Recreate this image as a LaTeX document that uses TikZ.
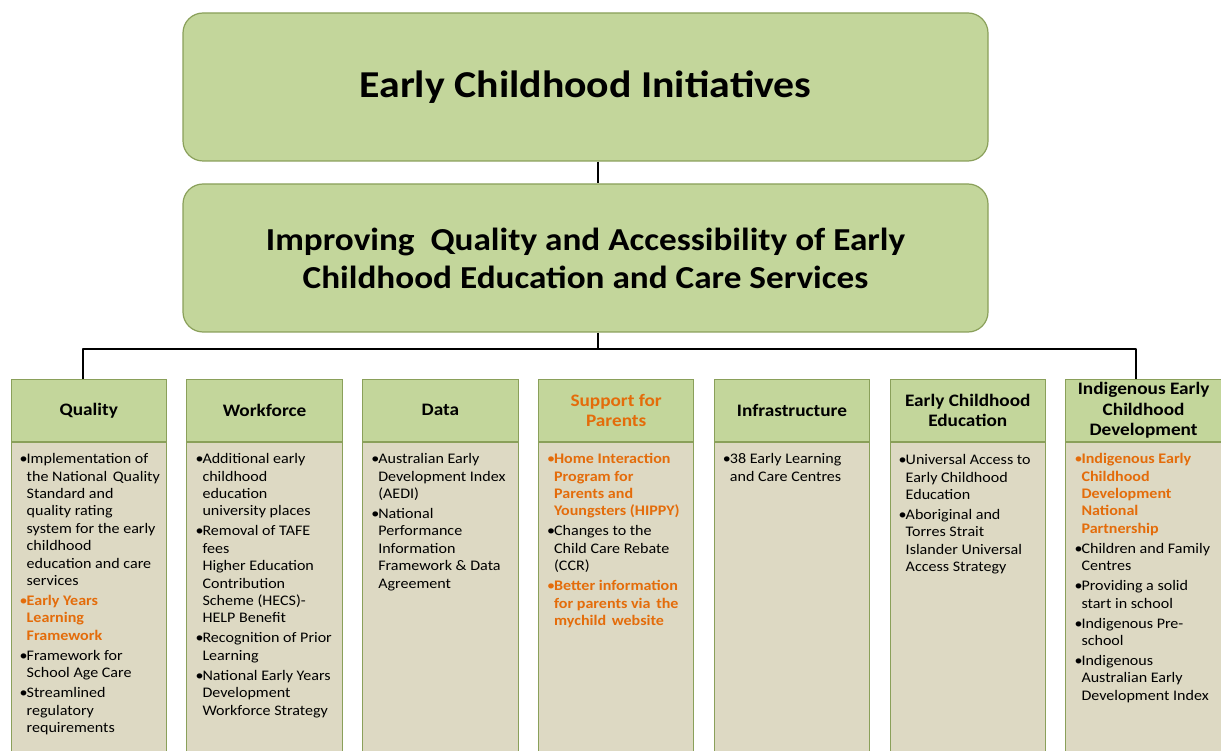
\documentclass[tikz,border=0pt]{standalone}
\usepackage{fontspec}
\setmainfont{Carlito}[FakeStretch=1.1]
\definecolor{hdrfill}{HTML}{C3D69B}
\definecolor{bodyfill}{HTML}{DDD9C3}
\definecolor{edge}{HTML}{8AA05A}
\definecolor{orng}{HTML}{E46C0A}
\newcommand\fitem[2][black]{\noindent\hangindent=7pt\hangafter=1{\color{#1}\makebox[7pt][l]{\textbullet}#2}\par}
\newcommand\nitem[2][black]{\vspace{2.6pt}\fitem[#1]{#2}}
\newcommand\colbody[1]{\parbox[t]{160pt}{\rightskip=0pt plus 1fil\parfillskip=0pt plus 1fil\hbadness=10000\hfuzz=50pt\fontsize{14.6pt}{17.4pt}\selectfont #1}}
\tikzset{
  topbox/.style={draw=edge, line width=1.2pt, fill=hdrfill, rounded corners=20pt,
    minimum width=805pt, minimum height=148pt, align=center},
  hdrbox/.style={draw=edge, line width=1pt, fill=hdrfill, minimum width=155.5pt,
    minimum height=61.7pt, anchor=north west, inner sep=0pt},
  bodybox/.style={draw=edge, line width=1pt, fill=bodyfill, minimum width=155.5pt,
    minimum height=330pt, anchor=north, inner sep=0pt},
  hdrtext/.style={align=center, font=\fontsize{17.5pt}{20.5pt}\selectfont\bfseries, inner sep=0pt},
  bodytext/.style={anchor=base west, inner sep=0pt},
  conn/.style={line width=2.8pt, line join=round, black}
}
\begin{document}
\begin{tikzpicture}[x=1pt,y=-1pt]
\useasboundingbox (0,0) rectangle (1221,751);
\clip (0,0) rectangle (1221,751);
\node[topbox, font=\fontsize{38pt}{42pt}\selectfont\bfseries] (top) at (585.5,87) {Early Childhood Initiatives};
\node[topbox, font=\fontsize{32pt}{38pt}\selectfont\bfseries] (sub) at (585.5,258) {Improving\ \ Quality and Accessibility of Early\\ Childhood Education and Care Services};
% columns
\foreach \i/\nm in {0/q,1/w,2/d,3/s,4/f,5/e,6/g}{
  \node[hdrbox] (\nm h) at ({10.5+175.8*\i},379) {};
  \node[bodybox] (\nm b) at (\nm h.south) {};
}
\node[hdrtext] (qt) at (qh.center) {Quality};
\node[hdrtext] (wt) at (wh.center) {Workforce};
\node[hdrtext] (dt) at (dh.center) {Data};
\node[hdrtext, text=orng] (st) at (sh.center) {Support for\\Parents};
\node[hdrtext] (ft) at (fh.center) {Infrastructure};
\node[hdrtext] (et) at (eh.center) {Early Childhood\\Education};
\node[hdrtext] (gt) at (gh.center) {Indigenous Early\\Childhood\\Development};
% body texts
\node[bodytext] (qx) at ([xshift=9pt,yshift=-22pt]qb.north west) {\colbody{%
\fitem{Implementation of\\the National\hspace{2pt} Quality\\Standard and\\quality rating\\system for the early\\childhood\\education and care\\services}
\nitem[orng]{\bfseries Early Years\\Learning\\Framework}
\nitem{Framework for\\School Age Care}
\nitem{Streamlined\\regulatory\\requirements}}};
\node[bodytext] (wx) at ([xshift=9pt,yshift=-22pt]wb.north west) {\colbody{%
\fitem{Additional early\\childhood\\education\\university places}
\nitem{Removal of TAFE\\fees\\Higher Education\\Contribution\\Scheme (HECS)-\\HELP Benefit}
\nitem{Recognition of Prior\\Learning}
\nitem{National Early Years\\Development\\Workforce Strategy}}};
\node[bodytext] (dx) at ([xshift=9pt,yshift=-22pt]db.north west) {\colbody{%
\fitem{Australian Early\\Development Index\\(AEDI)}
\nitem{National\\Performance\\Information\\Framework \& Data\\Agreement}}};
\node[bodytext] (sx) at ([xshift=9pt,yshift=-22pt]sb.north west) {\colbody{%
\fitem[orng]{\bfseries Home Interaction\\Program for\\Parents and\\Youngsters (HIPPY)}
\nitem{Changes to the\\Child Care Rebate\\(CCR)}
\nitem[orng]{\bfseries Better information\\for parents via\hspace{2pt} the\\mychild\hspace{2pt} website}}};
\node[bodytext] (fx) at ([xshift=9pt,yshift=-22pt]fb.north west) {\colbody{%
\fitem{38 Early Learning\\and Care Centres}}};
\node[bodytext] (ex) at ([xshift=9pt,yshift=-23pt]eb.north west) {\colbody{%
\fitem{Universal Access to\\Early Childhood\\Education}
\nitem{Aboriginal and\\Torres Strait\\Islander Universal\\Access Strategy}}};
\node[bodytext] (gx) at ([xshift=9pt,yshift=-22pt]gb.north west) {\colbody{%
\fitem[orng]{\bfseries Indigenous Early\\Childhood\\Development\\National\\Partnership}
\nitem{Children and Family\\Centres}
\nitem{Providing a solid\\start in school}
\nitem{Indigenous Pre-\\school}
\nitem{Indigenous\\Australian Early\\Development Index}}};
% connectors
\coordinate (cx) at (598,0);
\coordinate (hl) at (83,349);
\coordinate (hr) at (1136,349);
\draw[conn] (top.south -| cx) -- (sub.north -| cx);
\draw[conn] (sub.south -| cx) -- (cx |- hl);
\draw[conn] (qh.north -| hl) -- (hl) -- (hr) -- (gh.north -| hr);
\end{tikzpicture}
\end{document}
